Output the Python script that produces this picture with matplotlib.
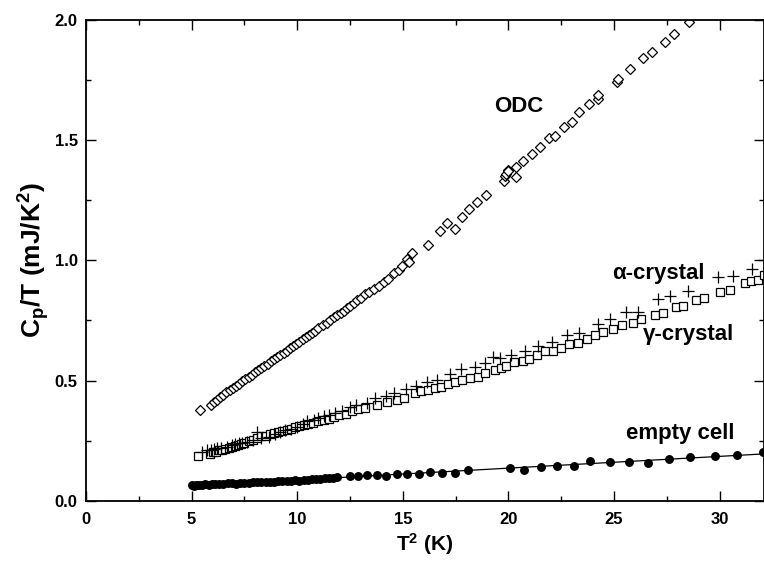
import matplotlib
matplotlib.use("Agg")
import matplotlib.pyplot as plt
import numpy as np
from matplotlib.ticker import MultipleLocator

plt.rcParams['font.family'] = ['Liberation Sans', 'DejaVu Sans']
plt.rcParams['font.weight'] = 'bold'
plt.rcParams['mathtext.fontset'] = 'custom'
plt.rcParams['mathtext.rm'] = 'Liberation Sans:bold'
plt.rcParams['mathtext.bf'] = 'Liberation Sans:bold'
plt.rcParams['mathtext.it'] = 'Liberation Sans:bold'

# empty cell (filled circles)
empty_x = [5.0, 5.1, 5.2, 5.35, 5.5, 5.65, 5.8, 5.95, 6.1, 6.3, 6.5, 6.7, 6.9, 7.1,
           7.3, 7.5, 7.7, 7.9, 8.1, 8.3, 8.5, 8.7, 8.9, 9.1, 9.3, 9.5, 9.7, 9.9,
           10.1, 10.3, 10.5, 10.7, 10.9, 11.1, 11.3, 11.5, 11.7, 11.9,
           12.5, 12.9, 13.3, 13.76, 14.2, 14.74, 15.2, 15.75, 16.3, 16.84, 17.46,
           18.07, 20.07, 20.75, 21.52, 22.28, 23.1, 23.88, 24.8, 25.7, 26.6, 27.6,
           28.6, 29.8, 30.8, 32.05]
empty_y = [0.066, 0.064, 0.067, 0.066, 0.068, 0.069, 0.067, 0.070, 0.071, 0.070,
           0.072, 0.073, 0.074, 0.072, 0.075, 0.076, 0.075, 0.078, 0.077, 0.079,
           0.080, 0.078, 0.081, 0.082, 0.083, 0.082, 0.085, 0.086, 0.085, 0.087,
           0.089, 0.090, 0.091, 0.092, 0.094, 0.095, 0.097, 0.099,
           0.104, 0.105, 0.108, 0.108, 0.105, 0.111, 0.111, 0.111, 0.122, 0.116,
           0.118, 0.128, 0.136, 0.130, 0.143, 0.146, 0.146, 0.165, 0.162, 0.161,
           0.158, 0.176, 0.182, 0.187, 0.193, 0.204]

# gamma-crystal (open squares)
gamma_x = [5.3, 5.85, 6.0, 6.15, 6.3, 6.45, 6.6, 6.75, 6.9, 7.05, 7.2, 7.35, 7.5,
           7.7, 7.9, 8.1, 8.3, 8.5, 8.7, 8.9, 9.1, 9.3, 9.5, 9.7, 9.9, 10.1, 10.3,
           10.5, 10.75, 11.0, 11.25, 11.5, 11.75, 12.0, 12.3, 12.6, 12.9, 13.2,
           13.76, 14.26, 14.7, 15.05, 15.56, 15.87, 16.19, 16.5, 16.83, 17.14,
           17.46, 17.8, 18.2, 18.56, 18.9, 19.35, 19.64, 19.88, 20.27, 20.67,
           20.98, 21.35, 21.73, 22.09, 22.49, 22.88, 23.28, 23.72, 24.1, 24.46,
           24.94, 25.4, 25.9, 26.28, 26.94, 27.3, 27.94, 28.26, 28.9, 29.28,
           30.04, 30.47, 31.18, 31.5, 31.8, 32.1]
gamma_y = [0.186, 0.196, 0.203, 0.205, 0.210, 0.213, 0.218, 0.222, 0.226, 0.229,
           0.233, 0.238, 0.243, 0.249, 0.254, 0.262, 0.268, 0.272, 0.278, 0.282,
           0.288, 0.292, 0.296, 0.301, 0.306, 0.311, 0.316, 0.320, 0.326, 0.331,
           0.337, 0.342, 0.348, 0.356, 0.362, 0.372, 0.381, 0.388,
           0.399, 0.413, 0.420, 0.427, 0.448, 0.455, 0.461, 0.471, 0.473, 0.486,
           0.494, 0.503, 0.510, 0.517, 0.531, 0.545, 0.552, 0.561, 0.577, 0.582,
           0.589, 0.607, 0.621, 0.621, 0.635, 0.652, 0.658, 0.674, 0.690, 0.701,
           0.714, 0.732, 0.739, 0.755, 0.773, 0.780, 0.804, 0.811, 0.833, 0.843,
           0.868, 0.877, 0.905, 0.912, 0.919, 0.940]

# alpha-crystal (crosses)
alpha_x = [5.49, 5.72, 5.9, 6.05, 6.2, 6.4, 6.67, 6.9, 7.05, 7.23, 7.4, 7.62, 7.9,
           8.1, 8.3, 8.65, 8.95, 9.2, 9.44, 9.7, 10.0, 10.25, 10.47, 10.8, 11.0,
           11.26, 11.5, 11.81, 12.1, 12.52, 12.8, 13.28,
           13.7, 14.2, 14.6, 15.13, 15.6, 16.13, 16.6, 17.24, 17.77, 18.4, 18.88,
           19.29, 19.6, 20.1, 20.78, 21.4, 22.04, 22.77, 23.35, 24.22, 24.83,
           25.57, 26.15, 27.1, 27.67, 28.5, 29.92, 30.63, 31.53, 32.1]
alpha_y = [0.205, 0.212, 0.210, 0.215, 0.219, 0.222, 0.226, 0.232, 0.235, 0.240,
           0.243, 0.247, 0.253, 0.288, 0.262, 0.267, 0.278, 0.285, 0.295, 0.298,
           0.306, 0.318, 0.334, 0.338, 0.343, 0.353, 0.358, 0.367, 0.375, 0.390,
           0.397, 0.409,
           0.427, 0.438, 0.450, 0.464, 0.478, 0.496, 0.503, 0.528, 0.549, 0.558,
           0.575, 0.597, 0.593, 0.607, 0.621, 0.642, 0.662, 0.690, 0.697, 0.735,
           0.755, 0.787, 0.787, 0.839, 0.852, 0.873, 0.930, 0.933, 0.963, 1.000]

# ODC (open diamonds)
odc_x = [5.41, 5.9, 6.05, 6.2, 6.35, 6.5, 6.65, 6.8, 6.95, 7.1, 7.25, 7.4, 7.55,
         7.7, 7.85, 8.0, 8.15, 8.3, 8.45, 8.6, 8.75, 8.9, 9.05, 9.2, 9.35, 9.5,
         9.65, 9.8, 9.95, 10.1, 10.25, 10.4, 10.55, 10.7, 10.86, 11.0, 11.2, 11.4,
         11.57, 11.75, 11.9, 12.05, 12.2, 12.35, 12.5, 12.68, 12.84, 13.0, 13.2,
         13.4, 13.63, 13.85, 14.1, 14.3, 14.58, 14.8, 14.98, 15.21, 15.29, 15.45,
         16.19, 16.76, 17.11, 17.46, 17.82, 18.14, 18.53, 18.93, 19.8, 19.85,
         19.9, 19.96, 20.0, 20.35, 20.35, 20.67, 21.1, 21.5, 21.93, 22.2, 22.61,
         23.0, 23.35, 23.83, 24.22, 24.22, 25.14, 25.17, 25.77, 26.39, 26.79,
         27.43, 27.86, 28.54]
odc_y = [0.376, 0.400, 0.410, 0.418, 0.433, 0.442, 0.452, 0.461, 0.470, 0.479,
         0.488, 0.497, 0.507, 0.516, 0.525, 0.534, 0.543, 0.552, 0.561, 0.571,
         0.580, 0.589, 0.598, 0.607, 0.616, 0.625, 0.635, 0.644, 0.653, 0.662,
         0.671, 0.680, 0.690, 0.699, 0.708, 0.717, 0.729, 0.741, 0.752, 0.763,
         0.772, 0.781, 0.790, 0.800, 0.810, 0.822, 0.833, 0.845, 0.858, 0.870,
         0.882, 0.895, 0.910, 0.922, 0.945, 0.958, 0.975, 1.005, 0.991, 1.030,
         1.062, 1.120, 1.155, 1.130, 1.180, 1.213, 1.240, 1.272, 1.328, 1.348,
         1.360, 1.376, 1.370, 1.346, 1.387, 1.414, 1.443, 1.469, 1.508, 1.518,
         1.552, 1.573, 1.616, 1.649, 1.671, 1.688, 1.740, 1.753, 1.795, 1.841,
         1.866, 1.907, 1.940, 1.990]

fig = plt.figure(figsize=(7.64, 5.64), dpi=100)
ax = fig.add_axes([0.1126, 0.1117, 0.8874, 0.8537])

ax.plot(odc_x, odc_y, 'D', ms=4.8, mfc='white', mec='black', mew=0.9, ls='none')
ax.plot(gamma_x, gamma_y, 's', ms=5.8, mfc='white', mec='black', mew=0.9, ls='none')
ax.plot(alpha_x, alpha_y, '+', ms=8, mec='black', mew=0.9, ls='none')

# linear fit through empty cell data
p = np.polyfit(empty_x, empty_y, 1)
xf = np.array([min(empty_x), max(empty_x) + 0.5])
ax.plot(xf, np.polyval(p, xf), '-', color='black', lw=0.9)
ax.plot(empty_x, empty_y, 'o', ms=5.4, color='black', ls='none')

ax.set_xlim(0, 32.1)
ax.set_ylim(0, 2.0)
ax.xaxis.set_major_locator(MultipleLocator(5))
ax.xaxis.set_minor_locator(MultipleLocator(2.5))
ax.yaxis.set_major_locator(MultipleLocator(0.5))
ax.yaxis.set_minor_locator(MultipleLocator(0.25))
ax.yaxis.set_major_formatter(plt.FormatStrFormatter('%.1f'))
ax.tick_params(which='both', direction='in', top=True, right=True, labelsize=12, width=1.0)
ax.tick_params(which='major', length=7)
ax.tick_params(axis='x', which='major', pad=8)
ax.tick_params(axis='y', which='major', pad=6)
ax.tick_params(which='minor', length=3.5)
for s in ax.spines.values():
    s.set_linewidth(1.3)
for lab in ax.get_xticklabels() + ax.get_yticklabels():
    lab.set_fontweight('bold')

ax.set_xlabel('T$^2$ (K)', fontsize=15, fontweight='bold', labelpad=3)
ax.set_ylabel('C$_\\mathregular{p}$/T (mJ/K$^2$)', fontsize=19, fontweight='bold')
ax.yaxis.set_label_coords(-0.05, 0.5)

ax.text(19.3, 1.64, 'ODC', fontsize=16, fontweight='bold', ha='left', va='center')
ax.text(24.9, 0.947, 'α-crystal', fontsize=16, fontweight='bold', ha='left', va='center')
ax.text(26.36, 0.691, 'γ-crystal', fontsize=16, fontweight='bold', ha='left', va='center')
ax.text(25.57, 0.28, 'empty cell', fontsize=16, fontweight='bold', ha='left', va='center')

fig.savefig('out.png', dpi=100)
